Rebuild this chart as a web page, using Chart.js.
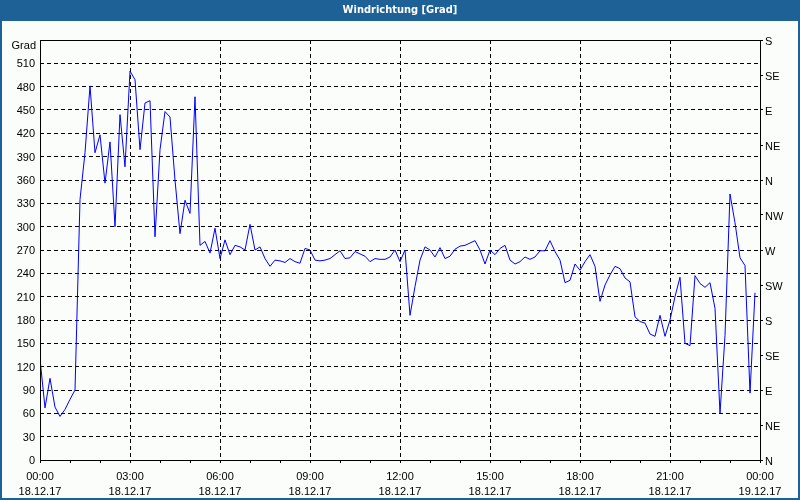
<!DOCTYPE html>
<html>
<head>
<meta charset="utf-8">
<script src="https://cdn.jsdelivr.net/npm/chart.js@4.4.1/dist/chart.umd.min.js"></script>
<style>
html,body{margin:0;padding:0;background:#ffffff;}
#wrap{width:800px;height:500px;}
</style>
</head>
<body>
<div id="wrap"><canvas id="c" width="800" height="500"></canvas></div>
<script>
// ---- data ----
const chartTitle = 'Windrichtung [Grad]';
const yUnitLabel = 'Grad';

const times = [
'00:00','00:10','00:20','00:30','00:40','00:50',
'01:00','01:10','01:20','01:30','01:40','01:50',
'02:00','02:10','02:20','02:30','02:40','02:50',
'03:00','03:10','03:20','03:30','03:40','03:50',
'04:00','04:10','04:20','04:30','04:40','04:50',
'05:00','05:10','05:20','05:30','05:40','05:50',
'06:00','06:10','06:20','06:30','06:40','06:50',
'07:00','07:10','07:20','07:30','07:40','07:50',
'08:00','08:10','08:20','08:30','08:40','08:50',
'09:00','09:10','09:20','09:30','09:40','09:50',
'10:00','10:10','10:20','10:30','10:40','10:50',
'11:00','11:10','11:20','11:30','11:40','11:50',
'12:00','12:10','12:20','12:30','12:40','12:50',
'13:00','13:10','13:20','13:30','13:40','13:50',
'14:00','14:10','14:20','14:30','14:40','14:50',
'15:00','15:10','15:20','15:30','15:40','15:50',
'16:00','16:10','16:20','16:30','16:40','16:50',
'17:00','17:10','17:20','17:30','17:40','17:50',
'18:00','18:10','18:20','18:30','18:40','18:50',
'19:00','19:10','19:20','19:30','19:40','19:50',
'20:00','20:10','20:20','20:30','20:40','20:50',
'21:00','21:10','21:20','21:30','21:40','21:50',
'22:00','22:10','22:20','22:30','22:40','22:50',
'23:00','23:10','23:20','23:30','23:40','23:50'
];

const direction = [
130, 67,105, 68, 56, 65,
 78, 90,335,395,481,395,
418,356,409,300,444,377,
500,489,399,459,462,287,
399,448,441,360,291,334,
317,467,276,281,266,298,
259,283,264,276,274,270,
303,270,274,259,249,257,
256,254,259,255,253,272,
270,257,256,257,259,264,
269,259,260,268,265,262,
255,259,258,258,261,270,
255,270,186,223,257,274,
270,261,273,259,262,271,
275,276,279,282,270,252,
270,264,272,276,257,252,
255,261,258,261,269,269,
282,268,257,228,231,252,
244,255,264,249,204,225,
238,249,246,234,229,184,
178,176,162,159,186,159,
180,210,235,150,147,237,
227,222,228,195, 60,160,
342,305,260,250, 86,215
];

const timeTickLabels = ['00:00','03:00','06:00','09:00','12:00','15:00','18:00','21:00','00:00'];
const dateTickLabels = ['18.12.17','18.12.17','18.12.17','18.12.17','18.12.17','18.12.17','18.12.17','18.12.17','19.12.17'];
const compassLabels = ['N','NE','E','SE','S','SW','W','NW','N','NE','E','SE','S'];

// ---- chart ----
const FONT = '"Liberation Sans", Arial, sans-serif';
const toMin = t => { const p = t.split(':'); return (+p[0]) * 60 + (+p[1]); };
const points = times.map((t, i) => ({ x: toMin(t), y: direction[i] }));

const framePlugin = {
  id: 'frame',
  beforeDraw(chart) {
    const ctx = chart.ctx;
    ctx.save();
    ctx.fillStyle = '#1d6196';
    ctx.fillRect(0, 0, chart.width, chart.height);
    ctx.fillStyle = '#fafdfa';
    ctx.fillRect(2, 21, chart.width - 4, chart.height - 23);
    ctx.fillStyle = '#ffffff';
    ctx.font = 'bold 11px "Liberation Sans Narrow", "DejaVu Sans Condensed", ' + FONT;
    ctx.textAlign = 'center';
    ctx.textBaseline = 'middle';
    ctx.fillText(chartTitle, chart.width / 2, 10.5);
    ctx.restore();
  },
  afterDraw(chart) {
    const ctx = chart.ctx;
    const a = chart.chartArea;
    ctx.save();
    ctx.strokeStyle = '#000000';
    ctx.lineWidth = 1;
    ctx.strokeRect(a.left + 0.5, a.top + 0.5, a.right - a.left, a.bottom - a.top);
    ctx.fillStyle = '#000000';
    ctx.font = '11px ' + FONT;
    ctx.textAlign = 'right';
    ctx.textBaseline = 'middle';
    ctx.fillText(yUnitLabel, a.left - 4, a.top + 6);
    ctx.restore();
  }
};

new Chart(document.getElementById('c'), {
  type: 'line',
  data: {
    datasets: [{
      data: points,
      borderColor: '#0000ff',
      borderWidth: 1,
      pointRadius: 0,
      tension: 0,
      fill: false
    }]
  },
  options: {
    responsive: false,
    animation: false,
    devicePixelRatio: 1,
    layout: { padding: { top: 40, left: 0, right: 0, bottom: 0 } },
    plugins: { legend: { display: false }, title: { display: false }, tooltip: { enabled: false } },
    scales: {
      x: {
        type: 'linear',
        min: 0, max: 1440,
        afterFit(s) { s.height = 40; },
        afterBuildTicks(s) {
          const t = [];
          for (let k = 0; k < 25; k++) t.push({ value: k * 60 });
          s.ticks = t;
        },
        ticks: {
          autoSkip: false, maxRotation: 0, minRotation: 0,
          padding: 6,
          color: '#000000',
          font: { family: FONT, size: 11, lineHeight: 1.4 },
          callback(v) {
            if (v % 180 !== 0) return '';
            const k = v / 180;
            return [timeTickLabels[k], dateTickLabels[k]];
          }
        },
        grid: {
          color: c => (c.tick && c.tick.value % 180 === 0 && c.tick.value > 0 && c.tick.value < 1440) ? '#000000' : 'rgba(0,0,0,0)',
          tickColor: '#000000',
          tickLength: 3,
          lineWidth: 1
        },
        border: { display: false, dash: [4, 3] }
      },
      y: {
        position: 'left',
        min: 0, max: 540,
        afterFit(s) { s.width = 40; },
        ticks: {
          stepSize: 30, padding: 5, color: '#000000', labelOffset: 1,
          font: { family: FONT, size: 11 },
          callback: v => v === 540 ? '' : String(v)
        },
        grid: {
          color: c => (c.tick && (c.tick.value === 0 || c.tick.value === 540)) ? 'rgba(0,0,0,0)' : '#000000',
          drawTicks: false,
          lineWidth: 1
        },
        border: { display: false, dash: [4, 3] }
      },
      y2: {
        position: 'right',
        min: 0, max: 540,
        afterFit(s) { s.width = 40; },
        ticks: {
          stepSize: 45, padding: 2, color: '#000000', labelOffset: 2,
          font: { family: FONT, size: 11 },
          callback: v => compassLabels[Math.round(v / 45)]
        },
        grid: { drawOnChartArea: false, drawTicks: true, tickLength: 3, tickColor: '#000000' },
        border: { display: false }
      }
    }
  },
  plugins: [framePlugin]
});
</script>
</body>
</html>
